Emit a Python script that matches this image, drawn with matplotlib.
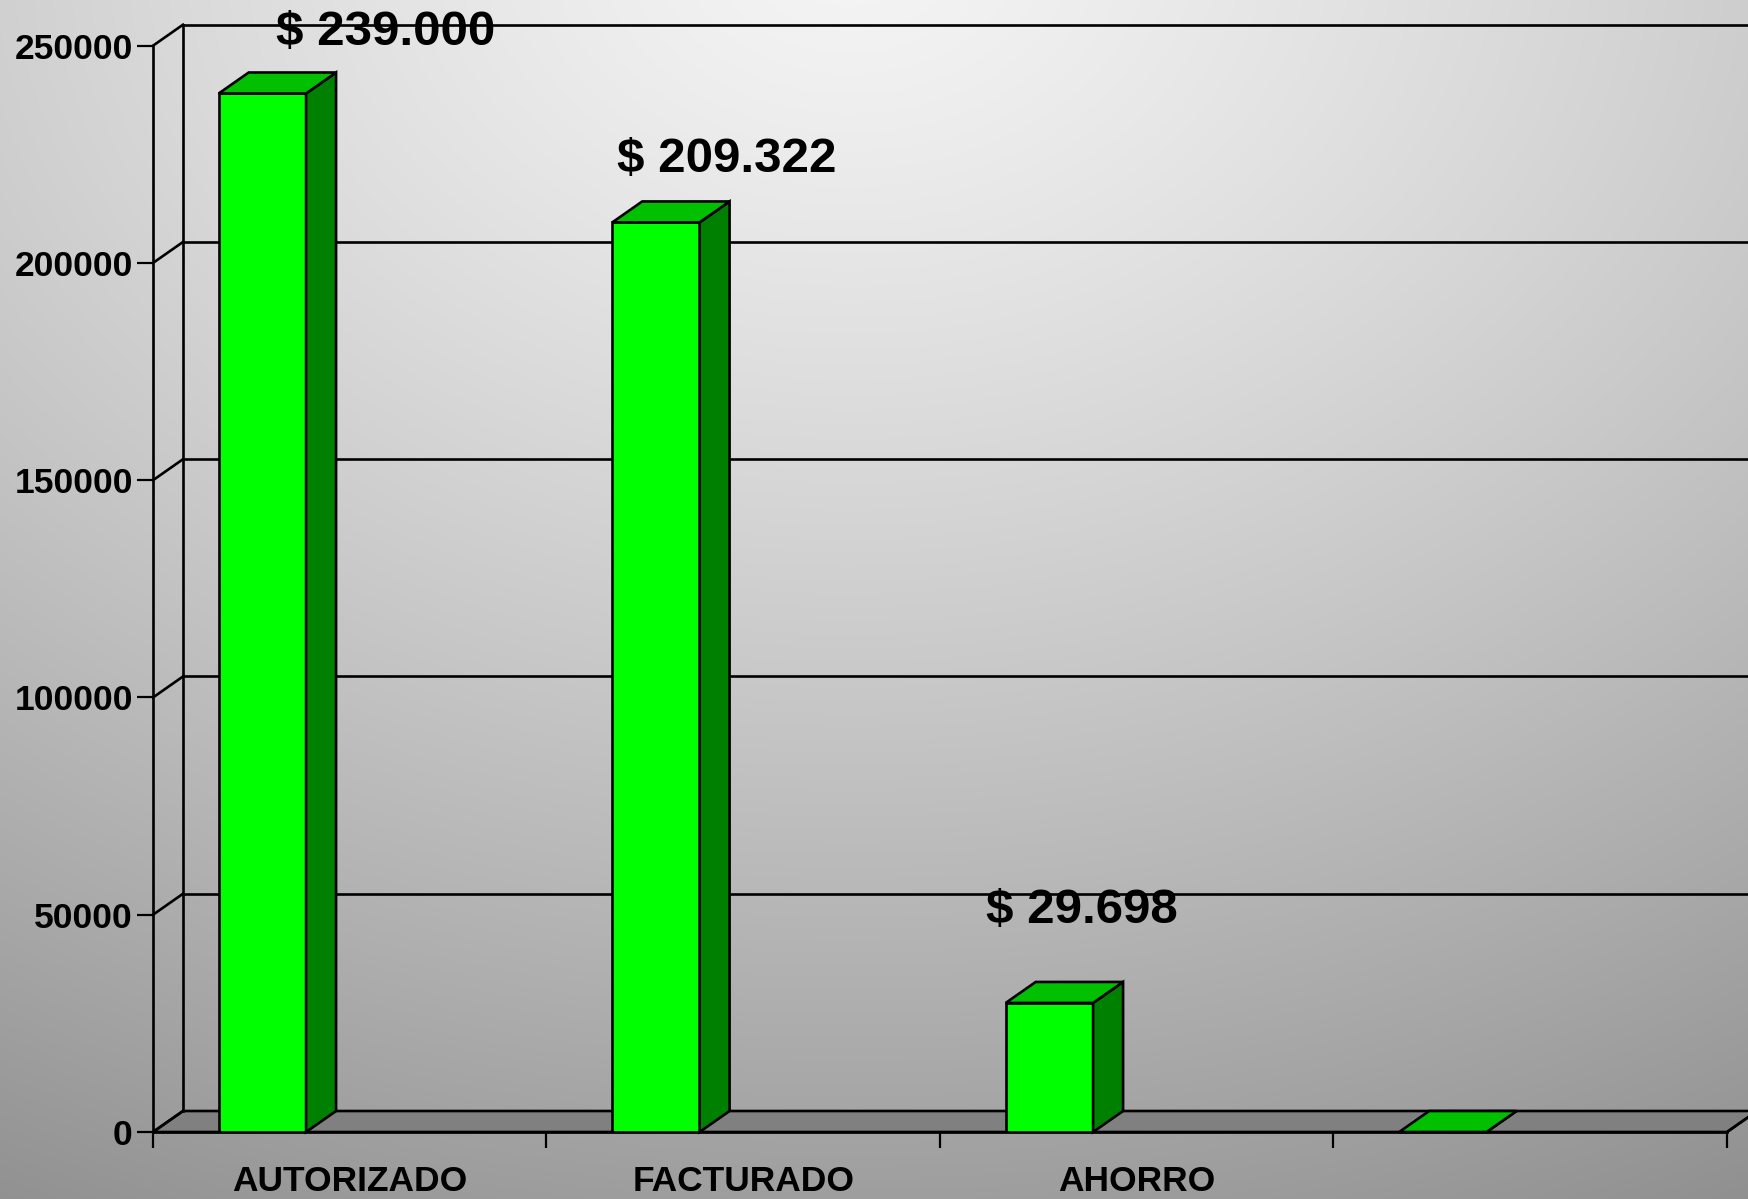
import numpy as np
import matplotlib
matplotlib.use("Agg")
import matplotlib.pyplot as plt
from matplotlib.patches import Polygon

# ---------------- data ----------------
categories = ["AUTORIZADO", "FACTURADO", "AHORRO", ""]
values = [239000, 209322, 29698, 0]
labeled = [True, True, True, False]
yticks = [0, 50000, 100000, 150000, 200000, 250000]

# ---------------- layout ----------------
W, H, DPI = 1749, 1199, 100
plt.rcParams['font.family'] = ['Liberation Sans', 'DejaVu Sans']
fig = plt.figure(figsize=(W / DPI, H / DPI), dpi=DPI)

# background gradient
bg = fig.add_axes([0, 0, 1, 1], zorder=0)
bg.set_axis_off()
yy, xx = np.mgrid[0:H, 0:W]
r = np.sqrt(((xx - 850) / 1700.0) ** 2 + ((yy + 50) / 1250.0) ** 2)
v = np.clip(0.96 - 0.34 * r ** 1.25, 0, 1)
bg.imshow(np.dstack([v, v, v]), aspect='auto', extent=[0, 1, 0, 1],
          interpolation='bilinear')
bg.set_xlim(0, 1)
bg.set_ylim(0, 1)

# front plane of the chart (pixels: x 153..1727, y 1132..45.7)
x0_px, x1_px = 153, 1727
y0_px, y1_px = 1132, 45.7
ax = fig.add_axes([x0_px / W, (H - y0_px) / H, (x1_px - x0_px) / W, (y0_px - y1_px) / H],
                  zorder=1)
ax.patch.set_alpha(0)
ncat = len(categories)
ymax = yticks[-1]
ax.set_xlim(0, ncat)
ax.set_ylim(0, ymax)
for s in ax.spines.values():
    s.set_visible(False)

# depth offset in data units (30 px right, 21 px up)
dx = 30 / ((x1_px - x0_px) / ncat)
dy = 21 / ((y0_px - y1_px) / ymax)

lw = 1.9
# floor
ax.add_patch(Polygon([(0, 0), (ncat, 0), (ncat + dx, dy), (dx, dy)], closed=True,
                     facecolor='#808080', edgecolor='black', lw=lw, zorder=2,
                     clip_on=False))
# walls / gridlines
ax.plot([0, 0], [0, ymax], color='black', lw=lw, zorder=3, clip_on=False)
ax.plot([dx, dx], [dy, ymax + dy], color='black', lw=lw, zorder=3, clip_on=False)
for t in yticks:
    ax.plot([0, dx], [t, t + dy], color='black', lw=lw, zorder=3, clip_on=False)
    if t > 0:
        ax.plot([dx, ncat + dx + 0.5], [t + dy, t + dy], color='black', lw=lw,
                zorder=3, clip_on=False)

# bars
bw = 0.222
boff = 0.167
xs = np.arange(ncat) + boff
ax.bar(xs, values, width=bw, align='edge', color='#00ff00', edgecolor='black',
       linewidth=lw, zorder=5)
for x, val in zip(xs, values):
    ax.add_patch(Polygon([(x + bw, 0), (x + bw + dx, dy), (x + bw + dx, val + dy), (x + bw, val)],
                         closed=True, facecolor='#008000', edgecolor='black', lw=lw,
                         zorder=5, clip_on=False))
    ax.add_patch(Polygon([(x, val), (x + bw, val), (x + bw + dx, val + dy), (x + dx, val + dy)],
                         closed=True, facecolor='#00c000', edgecolor='black', lw=lw,
                         zorder=5, clip_on=False))

# value labels (manually placed as in the original)
label_pos = [(0.59, 253000), (1.459, 223800), (2.361, 51000)]
for (lx, ly), val, show in zip(label_pos + [(0, 0)], values, labeled):
    if show:
        txt = "$ " + f"{val:,}".replace(",", ".")
        ax.text(lx, ly, txt, ha='center', va='center', fontsize=35.5,
                fontweight='bold', color='black', zorder=6, clip_on=False)

# ticks
ax.set_yticks(yticks)
ax.set_yticklabels([str(t) for t in yticks], fontsize=25.5, fontweight='bold')
ax.tick_params(axis='y', direction='out', length=11.5, width=1.6, pad=3, colors='black')
ax.set_xticks(np.arange(ncat + 1))
ax.set_xticklabels([])
ax.tick_params(axis='x', which='major', direction='out', length=11.5, width=1.6)
ax.set_xticks(np.arange(ncat) + 0.5, minor=True)
ax.set_xticklabels(categories, minor=True, fontsize=25.5, fontweight='bold')
ax.tick_params(axis='x', which='minor', length=0, pad=24)
ax.plot([0, ncat], [0, 0], color='black', lw=lw, zorder=4, clip_on=False)
ax.plot([ncat, ncat + dx], [0, dy], color='black', lw=lw, zorder=4, clip_on=False)

fig.savefig("out.png", dpi=DPI)
